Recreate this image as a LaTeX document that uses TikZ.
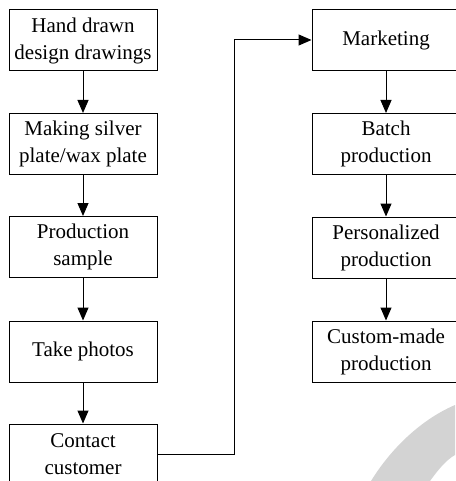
\documentclass[tikz,border=0pt]{standalone}
\usepackage{fontspec}
\setmainfont{Liberation Serif}
\usetikzlibrary{arrows.meta}
\definecolor{wm}{RGB}{211,211,211}
\begin{document}
\begin{tikzpicture}[x=1pt,y=-1pt,
  stepbox/.style={draw, line width=1pt, rectangle, minimum width=148pt, minimum height=61pt,
    align=center, inner sep=0pt, font=\fontsize{21}{27}\selectfont},
  arr/.style={line width=1pt, -{Triangle[length=13pt,width=11pt]}}]
\useasboundingbox (0,0) rectangle (455,481);
% watermark swoosh
\fill[wm] (455,405) .. controls (420,420) and (390,450) .. (371,481)
  -- (430,481) .. controls (438,470) and (446,460) .. (455,455) -- cycle;
% left column
\node[stepbox] (hd) at (83,40.5) {Hand drawn\\design drawings};
\node[stepbox] (ms) at (83,144) {Making silver\\plate/wax plate};
\node[stepbox] (ps) at (83,247) {Production\\sample};
\node[stepbox] (tp) at (83,351.5) {Take photos};
\node[stepbox] (cc) at (83,454.5) {Contact\\customer};
% right column
\node[stepbox] (mk) at (386,40) {Marketing};
\node[stepbox] (bp) at (386,144) {Batch\\production};
\node[stepbox] (pp) at (386,247.5) {Personalized\\production};
\node[stepbox] (cm) at (386,351.5) {Custom-made\\production};
% connectors
\draw[arr] (hd) -- (ms);
\draw[arr] (ms) -- (ps);
\draw[arr] (ps) -- (tp);
\draw[arr] (tp) -- (cc);
\coordinate (turn) at (234,40);
\draw[arr] (cc.east) -| (turn) -- (mk.west);
\draw[arr] (mk) -- (bp);
\draw[arr] (bp) -- (pp);
\draw[arr] (pp) -- (cm);
\end{tikzpicture}
\end{document}
